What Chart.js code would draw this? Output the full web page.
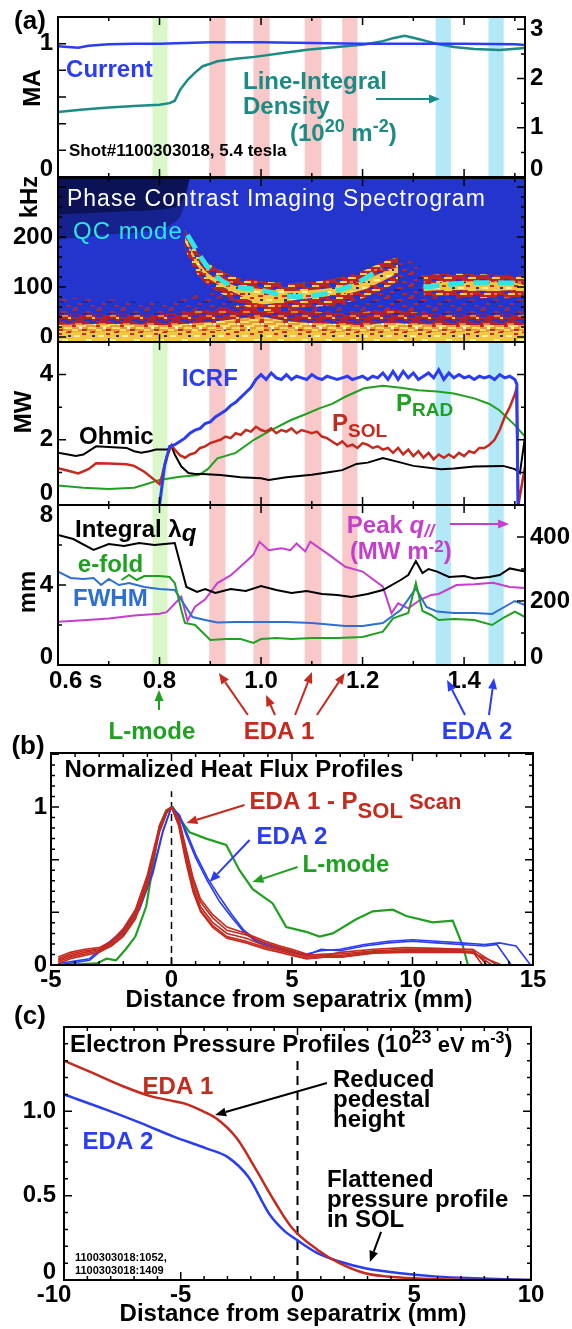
<!DOCTYPE html>
<html>
<head>
<meta charset="utf-8">
<script src="https://cdn.jsdelivr.net/npm/chart.js"></script>
<style>
  html, body { margin: 0; padding: 0; background: #fff; }
  #fig { position: relative; width: 572px; height: 1329px; overflow: hidden; background: #fff; }
  #fig canvas { position: absolute; left: 0; }
</style>
</head>
<body>
<div id="fig">
  <canvas id="cA1" width="572" height="179" style="top:0px"></canvas>
  <canvas id="cA2" width="572" height="166" style="top:177px"></canvas>
  <canvas id="cA3" width="572" height="165" style="top:341px"></canvas>
  <canvas id="cA4" width="572" height="246" style="top:504px"></canvas>
  <canvas id="cB" width="572" height="285" style="top:733px"></canvas>
  <canvas id="cC" width="572" height="324" style="top:1005px"></canvas>
</div>
<script>
// ---- panel (a): time windows (s) ----
const bandStart = [0.786, 0.898, 0.985, 1.086, 1.160, 1.344, 1.448];
const bandEnd   = [0.816, 0.930, 1.017, 1.119, 1.190, 1.374, 1.478];
const bandKind  = ['L', 'E1', 'E1', 'E1', 'E1', 'E2', 'E2'];

// plasma current (MA) and line-integral density (1e20 m^-2)
const curT = [0.6, 0.62, 0.64, 0.66, 0.7, 0.75, 0.8, 0.9, 1.0, 1.1, 1.2, 1.3, 1.4, 1.5, 1.52];
const curMA = [0.98, 0.975, 0.97, 0.985, 0.995, 1.0, 1.0, 1.01, 1.01, 1.005, 1.0, 1.0, 1.0, 0.995, 0.99];
const denT = [0.6, 0.65, 0.7, 0.75, 0.8, 0.82, 0.83, 0.841, 0.856, 0.87, 0.885, 0.9, 0.914, 0.95, 0.987,
  1.05, 1.095, 1.15, 1.203, 1.24, 1.26, 1.283, 1.3, 1.33, 1.348, 1.38, 1.42, 1.47, 1.52];
const den = [1.32, 1.37, 1.41, 1.44, 1.47, 1.5, 1.55, 1.78, 1.98, 2.12, 2.25, 2.3, 2.35, 2.4, 2.44,
  2.53, 2.59, 2.64, 2.69, 2.76, 2.82, 2.87, 2.83, 2.75, 2.7, 2.64, 2.6, 2.58, 2.62];

// spectrogram features (kHz)
const specT = [0.6, 0.7, 0.8, 0.85, 0.9, 0.95, 1.0, 1.05, 1.1, 1.15, 1.2, 1.25, 1.3, 1.35, 1.4, 1.45, 1.52];
const lowYellow = [10, 11, 10, 11, 13, 15, 16, 13, 11, 10, 10, 11, 10, 10, 10, 10, 10];
const lowOrange = [24, 26, 24, 26, 30, 36, 40, 32, 28, 26, 24, 28, 26, 24, 24, 24, 24];
const lowRed    = [45, 45, 45, 50, 55, 62, 70, 60, 52, 48, 50, 56, 50, 45, 45, 45, 45];
const speckle   = [80, 75, 70, 80, 90, 100, 100, 90, 85, 90, 100, 140, 130, 125, 125, 125, 125];
const navyT = [0.6, 0.7, 0.8, 0.84, 0.86];
const navyLow = [245, 250, 255, 265, 318];
const hazeLow = [195, 205, 215, 240, 318];
const navyTop = [318, 318, 318, 318, 318];
const qcT = [0.85, 0.875, 0.9, 0.95, 1.0, 1.05, 1.1, 1.15, 1.2, 1.24, 1.27];
const qcLo = [175, 125, 100, 72, 50, 55, 60, 65, 78, 95, 110];
const qcHi = [215, 170, 145, 120, 112, 108, 110, 118, 132, 150, 160];
const qcCoreLo = [192, 142, 115, 88, 66, 72, 78, 84, 94, 112, 128];
const qcCoreHi = [200, 152, 124, 102, 96, 92, 94, 100, 112, 130, 140];
const streakT = [1.23, 1.26, 1.3, 1.33];
const streakLo = [50, 45, 50, 60];
const streakHi = [150, 160, 150, 130];
const qc2T = [1.32, 1.36, 1.4, 1.45, 1.5, 1.52];
const qc2Lo = [80, 82, 80, 78, 80, 80];
const qc2Hi = [122, 126, 126, 125, 122, 120];
const qc2CoreLo = [92, 94, 94, 92, 94, 94];
const qc2CoreHi = [106, 110, 111, 110, 108, 106];
const dash1T = [0.855, 0.9, 0.94, 1.0, 1.053, 1.11, 1.166, 1.2, 1.237];
const dash1F = [204, 134, 104, 94, 82, 84, 98, 114, 138];
const dash2T = [1.32, 1.41, 1.5];
const dash2F = [100, 108, 108];

// power (MW)
const icrfT = [0.800, 0.805, 0.81, 0.82, 0.83, 0.84, 0.85, 0.86, 0.87, 0.88,
  0.89, 0.90, 0.91, 0.92, 0.93, 0.94, 0.95, 0.96, 0.97, 0.98,
  0.99, 1.00, 1.01, 1.02, 1.03, 1.04, 1.05, 1.06, 1.07, 1.08,
  1.09, 1.10, 1.11, 1.12, 1.13, 1.14, 1.15, 1.16, 1.17, 1.18,
  1.19, 1.20, 1.21, 1.22, 1.23, 1.24, 1.25, 1.26, 1.27, 1.28,
  1.29, 1.30, 1.31, 1.32, 1.33, 1.34, 1.35, 1.36, 1.37, 1.38,
  1.39, 1.40, 1.41, 1.42, 1.43, 1.44, 1.45, 1.46, 1.47, 1.48,
  1.49, 1.50, 1.504, 1.506];
const icrf = [0.0, 0.6, 1.2, 1.8, 1.85, 1.95, 2.05, 2.2, 2.3, 2.35,
  2.5, 2.55, 2.7, 2.8, 2.9, 3.05, 3.15, 3.3, 3.45, 3.6,
  3.85, 4.0, 3.85, 4.05, 3.9, 3.85, 4.0, 3.85, 3.95, 3.9,
  3.85, 4.0, 3.9, 3.85, 3.95, 3.9, 3.85, 3.9, 3.95, 3.85,
  3.9, 3.95, 3.85, 3.95, 3.9, 4.05, 3.85, 4.1, 3.85, 4.1,
  3.9, 4.05, 3.85, 3.95, 4.05, 3.9, 4.15, 3.85, 4.05, 3.9,
  4.0, 3.9, 3.95, 3.85, 3.95, 3.9, 3.95, 3.85, 4.0, 3.9,
  3.95, 3.85, 3.7, 0.0];
const psolT = [0.60, 0.62, 0.64, 0.66, 0.675, 0.70, 0.735, 0.75, 0.77, 0.79,
  0.80, 0.805, 0.814, 0.824, 0.83, 0.84, 0.85, 0.86, 0.87, 0.88,
  0.89, 0.90, 0.91, 0.92, 0.93, 0.94, 0.95, 0.96, 0.97, 0.98,
  0.99, 1.00, 1.01, 1.02, 1.03, 1.04, 1.05, 1.06, 1.07, 1.08,
  1.09, 1.10, 1.11, 1.12, 1.13, 1.14, 1.15, 1.16, 1.17, 1.18,
  1.19, 1.20, 1.21, 1.22, 1.23, 1.24, 1.25, 1.26, 1.27, 1.28,
  1.29, 1.30, 1.31, 1.32, 1.33, 1.34, 1.35, 1.36, 1.37, 1.38,
  1.39, 1.40, 1.41, 1.42, 1.43, 1.44, 1.45, 1.46, 1.47, 1.48,
  1.49, 1.50, 1.503, 1.507, 1.52];
const psol = [1.13, 1.05, 0.97, 1.1, 1.28, 1.27, 1.25, 1.2, 1.02, 0.77,
  0.64, 0.9, 1.48, 1.84, 1.7, 1.53, 1.45, 1.55, 1.6, 1.75,
  1.8, 1.9, 1.95, 2.0, 2.1, 2.05, 2.2, 2.15, 2.3, 2.25,
  2.4, 2.3, 2.25, 2.35, 2.2, 2.3, 2.25, 2.35, 2.2, 2.3,
  2.25, 2.2, 2.25, 2.1, 2.05, 1.95, 1.85, 1.95, 1.8, 1.85,
  1.75, 1.9, 1.85, 1.75, 1.8, 1.7, 1.75, 1.6, 1.75, 1.55,
  1.7, 1.5, 1.65, 1.45, 1.6, 1.4, 1.55, 1.45, 1.55, 1.45,
  1.6, 1.5, 1.65, 1.6, 1.75, 1.75, 1.85, 2.0, 2.3, 2.7,
  3.0, 3.4, 3.55, 0.0, 1.2];
const ohmT = [0.60, 0.62, 0.635, 0.65, 0.675, 0.70, 0.735, 0.75, 0.764, 0.78,
  0.793, 0.815, 0.824, 0.83, 0.843, 0.857, 0.87, 0.885, 0.92, 0.96,
  1.00, 1.015, 1.05, 1.10, 1.13, 1.16, 1.188, 1.21, 1.24, 1.276,
  1.30, 1.355, 1.38, 1.42, 1.477, 1.50, 1.51, 1.52];
const ohm = [1.6, 1.55, 1.5, 1.55, 1.8, 1.78, 1.75, 1.65, 1.6, 1.65,
  1.7, 1.7, 1.8, 1.55, 1.18, 0.98, 0.95, 0.95, 0.92, 0.85,
  0.82, 0.77, 0.85, 0.93, 1.0, 1.07, 1.26, 1.3, 1.44, 1.3,
  1.2, 1.1, 1.12, 1.18, 1.2, 1.1, 0.98, 2.1];
const pradT = [0.6, 0.65, 0.70, 0.75, 0.77, 0.80, 0.84, 0.877, 0.895, 0.914,
  0.95, 0.986, 1.02, 1.058, 1.09, 1.116, 1.14, 1.166, 1.203, 1.24,
  1.275, 1.31, 1.347, 1.38, 1.42, 1.45, 1.47, 1.50, 1.52];
const prad = [0.6, 0.53, 0.49, 0.53, 0.62, 0.77, 0.87, 0.92, 1.1, 1.43,
  1.6, 2.0, 2.3, 2.6, 2.8, 2.97, 3.1, 3.32, 3.58, 3.66,
  3.6, 3.52, 3.48, 3.42, 3.27, 3.1, 2.9, 2.45, 2.1];

// heat flux widths (mm) and peak q// (MW m^-2)
const intT = [0.6, 0.63, 0.67, 0.70, 0.73, 0.76, 0.79, 0.81, 0.83, 0.853,
  0.874, 0.89, 0.91, 0.94, 0.97, 1.0, 1.03, 1.06, 1.09, 1.12,
  1.15, 1.178, 1.21, 1.24, 1.275, 1.29, 1.305, 1.318, 1.33, 1.347,
  1.37, 1.40, 1.42, 1.45, 1.47, 1.49, 1.52];
const intL = [6.5, 6.3, 5.75, 6.05, 5.95, 6.1, 6.0, 6.05, 6.1, 3.9,
  3.65, 3.8, 3.6, 3.8, 3.7, 3.95, 3.75, 3.6, 3.7, 3.55,
  3.5, 3.4, 3.55, 3.75, 4.25, 4.5, 5.2, 4.6, 4.8, 4.67,
  4.4, 4.45, 4.33, 4.4, 4.5, 4.83, 4.67];
const peakT = [0.6, 0.65, 0.70, 0.75, 0.80, 0.814, 0.843, 0.855, 0.87, 0.89,
  0.914, 0.94, 0.97, 0.985, 0.997, 1.015, 1.04, 1.058, 1.07, 1.087,
  1.097, 1.13, 1.166, 1.2, 1.24, 1.257, 1.27, 1.29, 1.313, 1.335,
  1.35, 1.385, 1.42, 1.457, 1.49, 1.52];
const peakQ = [135, 140, 145, 155, 160, 165, 213, 138, 182, 205,
  256, 280, 323, 345, 385, 359, 365, 359, 380, 355,
  385, 349, 307, 292, 245, 162, 193, 177, 203, 219,
  222, 250, 252, 257, 244, 241];
const efT = [0.725, 0.74, 0.755, 0.77, 0.80, 0.82, 0.83, 0.843, 0.85, 0.87,
  0.90, 0.93, 0.96, 0.985, 1.0, 1.03, 1.06, 1.10, 1.15, 1.20,
  1.24, 1.26, 1.29, 1.305, 1.318, 1.335, 1.35, 1.38, 1.42, 1.455,
  1.48, 1.50, 1.52];
const efold = [4.25, 4.5, 4.25, 4.45, 4.45, 4.4, 4.1, 2.75, 2.1, 2.0,
  1.25, 1.3, 1.3, 1.1, 1.3, 1.35, 1.3, 1.35, 1.35, 1.4,
  1.67, 2.33, 2.6, 4.1, 2.7, 2.5, 2.25, 2.3, 2.25, 2.0,
  2.4, 2.67, 2.4];
const fwT = [0.6, 0.625, 0.65, 0.67, 0.685, 0.70, 0.72, 0.74, 0.77, 0.80,
  0.83, 0.843, 0.865, 0.89, 0.914, 0.95, 1.0, 1.05, 1.1, 1.166,
  1.2, 1.24, 1.275, 1.305, 1.326, 1.347, 1.38, 1.42, 1.455, 1.5,
  1.52];
const fwhm = [4.67, 4.35, 4.3, 4.35, 4.0, 4.3, 4.0, 4.1, 3.9, 3.8,
  3.75, 3.25, 2.4, 2.25, 2.12, 2.15, 2.15, 2.15, 2.1, 1.95,
  1.95, 2.1, 2.75, 3.83, 2.9, 2.67, 2.6, 2.6, 2.55, 3.2,
  3.0];

// ---- panel (b): normalized heat flux vs distance (mm) ----
const hfX = [-4.7, -4.2, -3.6, -3.0, -2.5, -2.0, -1.5, -1.0, -0.5, -0.2,
  0, 0.3, 0.6, 0.9, 1.2, 1.7, 2.3, 3.1, 3.9, 4.5,
  5.0, 5.6, 6.3, 7.0, 8.4, 9.7, 11.0, 12.0];
const eda1a = [0.02, 0.05, 0.07, 0.09, 0.13, 0.2, 0.32, 0.54, 0.86, 0.97, 1.0, 0.9, 0.69, 0.5, 0.37, 0.27, 0.2, 0.17, 0.12, 0.1, 0.08, 0.05, 0.06, 0.06, 0.085, 0.09, 0.09, 0.09];
const eda1b = [0.04, 0.07, 0.09, 0.1, 0.14, 0.22, 0.34, 0.56, 0.87, 0.98, 1.0, 0.92, 0.72, 0.53, 0.4, 0.3, 0.22, 0.19, 0.14, 0.11, 0.09, 0.06, 0.07, 0.07, 0.09, 0.1, 0.1, 0.1];
const eda1c = [0.03, 0.06, 0.08, 0.1, 0.12, 0.19, 0.3, 0.52, 0.85, 0.97, 1.0, 0.89, 0.67, 0.48, 0.35, 0.25, 0.18, 0.15, 0.11, 0.09, 0.07, 0.04, 0.05, 0.05, 0.08, 0.085, 0.085, 0.085];
const eda1d = [0.05, 0.08, 0.1, 0.11, 0.15, 0.23, 0.35, 0.57, 0.88, 0.98, 1.0, 0.93, 0.74, 0.55, 0.42, 0.32, 0.24, 0.2, 0.15, 0.12, 0.1, 0.07, 0.06, 0.08, 0.1, 0.11, 0.105, 0.1];
const eda1e = [0.01, 0.04, 0.06, 0.08, 0.12, 0.18, 0.29, 0.5, 0.84, 0.96, 1.0, 0.88, 0.65, 0.46, 0.34, 0.24, 0.17, 0.14, 0.1, 0.08, 0.06, 0.04, 0.05, 0.05, 0.075, 0.08, 0.08, 0.08];
const eda1TailV = [0.085, 0.095, 0.08, 0.1, 0.075];   // at 12.5 mm
const eda1EndX = [12.9, 13.1, 13.3, 13.5, 13.7];     // where each drops to 0
const eda2X = [-4.7, -3.4, -2.7, -2.0, -1.33, -0.77, -0.36, 0, 0.33, 0.6,
  1.0, 1.5, 2.0, 2.5, 3.0, 3.5, 4.0, 5.0, 5.6, 6.2,
  7.0, 8.0, 9.0, 10.0, 11.0, 12.0, 13.0, 13.5, 14.1];
const eda2a = [0, 0.03, 0.12, 0.21, 0.35, 0.58, 0.84, 1.0, 0.95, 0.85, 0.7, 0.55, 0.43, 0.32, 0.22, 0.16, 0.13, 0.08, 0.06, 0.1, 0.09, 0.12, 0.14, 0.15, 0.14, 0.13, 0.12, 0.13, 0];
const eda2bX = [-4.7, -3.4, -2.7, -2.0, -1.33, -0.77, -0.36, 0, 0.33, 0.6,
  1.0, 1.5, 2.0, 2.5, 3.0, 3.5, 4.0, 5.0, 5.6, 6.2,
  7.0, 8.0, 9.0, 10.0, 11.0, 12.0, 13.0, 13.6, 14.3, 14.9];
const eda2b = [0.01, 0.04, 0.13, 0.22, 0.36, 0.6, 0.85, 1.0, 0.94, 0.83, 0.68, 0.53, 0.4, 0.3, 0.21, 0.15, 0.12, 0.08, 0.07, 0.09, 0.1, 0.13, 0.15, 0.16, 0.15, 0.14, 0.13, 0.14, 0.12, 0];
const lmodeX = [-4.7, -3.1, -2.7, -2.3, -1.9, -1.5, -1.05, -0.77, -0.5, -0.22,
  0.05, 0.33, 0.75, 1.44, 2.27, 2.82, 3.37, 4.2, 4.76, 5.59,
  6.14, 6.69, 7.66, 8.35, 9.18, 9.74, 10.84, 11.67, 12.09, 12.3, 15];
const lmode = [0, 0.01, 0.04, 0.03, 0.1, 0.18, 0.37, 0.63, 0.88, 0.98,
  1.0, 0.93, 0.84, 0.8, 0.76, 0.6, 0.48, 0.39, 0.24, 0.21,
  0.18, 0.2, 0.29, 0.34, 0.35, 0.31, 0.27, 0.28, 0.12, 0, 0];

// ---- panel (c): electron pressure (1e23 eV m^-3) ----
const peX1 = [-10, -8.9, -7.5, -6.3, -5.3, -4.7, -4.2, -3.5, -2.6, -1.8, -1.0, -0.24, 0.85, 1.8, 2.9, 4.4, 6.0, 8.0, 10];
const pe1 = [1.30, 1.235, 1.15, 1.09, 1.06, 1.04, 1.01, 0.96, 0.84, 0.66, 0.47, 0.31, 0.18, 0.10, 0.04, 0.015, 0.005, 0.0, 0.0];
const peX2 = [-10, -8.2, -6.7, -5.3, -3.9, -3.0, -2.1, -1.2, -0.55, 0, 0.85, 1.8, 2.9, 4.4, 6.0, 7.6, 10];
const pe2 = [1.10, 1.01, 0.93, 0.85, 0.78, 0.73, 0.61, 0.39, 0.29, 0.235, 0.16, 0.11, 0.07, 0.04, 0.02, 0.01, 0.0];

// ---- styling ----
const FONT = '"Liberation Sans", Arial, Helvetica, sans-serif';
const BLUE = '#2b3df2', TEAL = '#1b8b84', RED = '#c42a1e', GREEN = '#20a020';
const FWHM_BLUE = '#2e6fd4', MAG = '#c43fcc', CYAN = '#2ee6e6';
const SPEC_BG = '#2335cc';
const BAND_COLORS = { L: '#d9f7c9', E1: '#f9c9c9', E2: '#b3e9f7' };
const ROT = -Math.PI / 2;

const xAxesA = [
  { scale: 'x', side: 'top', major: 0.2, minor: 0.1 },
  { scale: 'x', side: 'bottom', major: 0.2, minor: 0.1 }
];

// per-canvas frame, ticks and annotations
const PANEL = {
  cA1: {
    bands: true,
    axes: [
      { scale: 'y', side: 'left', major: 0.2, labels: [[0, '0'], [1, '1']], pad: [10, 8] },
      { scale: 'y2', side: 'right', major: 1, minor: 0.5, labels: [[0, '0'], [1, '1'], [2, '2'], [3, '3']], pad: [10, 8] }
    ].concat(xAxesA),
    notes: [
      { px: 30, py: 20, parts: [['(a)', 26]], align: 'center' },
      { px: 31, py: 88, rot: ROT, parts: [['MA', 24]], align: 'center' },
      { x: 0.616, y: 0.8175, parts: [['Current', 24]], color: BLUE },
      { x: 0.9645, y: 0.7275, parts: [['Line-Integral', 24]], color: TEAL },
      { x: 0.9645, y: 0.54, parts: [['Density', 24]], color: TEAL },
      { x: 1.057, y: 0.3375, parts: [['(10', 24], ['20', 18, -9], [' m', 24], ['-2', 18, -9], [')', 24]], color: TEAL },
      { arrow: true, x1: 1.2265, y1: 0.585, x2: 1.3526, y2: 0.585, color: TEAL },
      { x: 0.6217, y: 0.2025, parts: [['Shot#1100303018, 5.4 tesla', 17]] }
    ]
  },
  cA2: {
    bg: SPEC_BG,
    axes: [
      { scale: 'y', side: 'left', major: 100, minor: 20, labels: [[0, '0'], [100, '100'], [200, '200']], pad: [8, 5] },
      { scale: 'y', side: 'right', major: 100, minor: 20 }
    ].concat(xAxesA),
    notes: [
      { px: 28, py: 20, rot: ROT, parts: [['kHz', 24]], align: 'center' },
      { x: 0.6177, y: 278, parts: [['Phase Contrast Imaging Spectrogram', 23, 0, 'normal']], color: '#fff', ls: 1 },
      { x: 0.6296, y: 214, parts: [['QC mode', 24, 0, 'normal']], color: CYAN, ls: 1 }
    ]
  },
  cA3: {
    bands: true,
    axes: [
      { scale: 'y', side: 'left', major: 2, minor: 1, labels: [[0, '0'], [2, '2'], [4, '4']], pad: [8, 12] },
      { scale: 'y', side: 'right', major: 2, minor: 1 }
    ].concat(xAxesA),
    notes: [
      { px: 22, py: 71, rot: ROT, parts: [['MW', 24]], align: 'center' },
      { x: 0.844, y: 3.93, parts: [['ICRF', 24]], color: BLUE },
      { x: 0.6414, y: 2.15, parts: [['Ohmic', 24]] },
      { x: 1.14, y: 2.55, parts: [['P', 24], ['SOL', 19, 6]], color: RED },
      { x: 1.266, y: 3.16, parts: [['P', 24], ['RAD', 19, 5]], color: GREEN }
    ]
  },
  cA4: {
    bands: true,
    axes: [
      { scale: 'y', side: 'left', major: 4, minor: 2, labels: [[0, '0'], [4, '4'], [8, '8']], pad: [10, 8] },
      { scale: 'y2', side: 'right', major: 200, minor: 100, labels: [[0, '0'], [200, '200'], [400, '400']], pad: [10, 8] },
      { scale: 'x', side: 'top', major: 0.2, minor: 0.1 },
      { scale: 'x', side: 'bottom', major: 0.2, minor: 0.1, off: 16,
        labels: [[0.6, '0.6 s', 'left', -9], [0.8, '0.8'], [1.0, '1.0'], [1.2, '1.2'], [1.4, '1.4']] }
    ],
    notes: [
      { px: 26, py: 88, rot: ROT, parts: [['mm', 24]], align: 'center' },
      { x: 0.6335, y: 6.85, parts: [['Integral ', 24], ['\u03bb', 24], ['q', 24, 4, 'italic bold']] },
      { x: 0.639, y: 5.1, parts: [['e-fold', 24]], color: GREEN },
      { x: 0.6296, y: 3.4, parts: [['FWHM', 24]], color: FWHM_BLUE },
      { x: 1.169, y: 7.05, parts: [['Peak ', 24], ['q', 24, 0, 'italic bold'], ['//', 18, 4, 'italic bold']], color: MAG },
      { x: 1.175, y: 5.75, parts: [['(MW m', 24], ['-2', 17, -7], [')', 24]], color: MAG },
      { arrow: true, x1: 1.372, y1: 7.05, x2: 1.4886, y2: 7.05, color: MAG },
      { x: 0.785, y: -3.25, parts: [['L-mode', 24]], color: GREEN, align: 'center' },
      { x: 1.0354, y: -3.25, parts: [['EDA 1', 24]], color: RED, align: 'center' },
      { x: 1.4255, y: -3.25, parts: [['EDA 2', 24]], color: BLUE, align: 'center' },
      { arrow: true, x1: 0.799, y1: -2.25, x2: 0.799, y2: -1.25, color: GREEN },
      { arrow: true, x1: 0.974, y1: -2.5, x2: 0.917, y2: -0.4, color: RED },
      { arrow: true, x1: 1.0275, y1: -2.5, x2: 1.0098, y2: -1.5, color: RED },
      { arrow: true, x1: 1.067, y1: -2.5, x2: 1.1004, y2: -0.35, color: RED },
      { arrow: true, x1: 1.11, y1: -2.5, x2: 1.165, y2: -0.4, color: RED },
      { arrow: true, x1: 1.4018, y1: -2.5, x2: 1.3664, y2: -0.75, color: BLUE },
      { arrow: true, x1: 1.449, y1: -2.5, x2: 1.459, y2: -0.65, color: BLUE }
    ]
  },
  cB: {
    axes: [
      { scale: 'y', side: 'left', major: 1 / 3, minor: 1 / 15, labels: [[0, '0'], [1, '1']], pad: [0, 0], gap: 4 },
      { scale: 'y', side: 'right', major: 1 / 3, minor: 1 / 15 },
      { scale: 'x', side: 'top', major: 5, minor: 1 },
      { scale: 'x', side: 'bottom', major: 5, minor: 1, off: 15,
        labels: [[-5, '-5'], [0, '0'], [5, '5'], [10, '10'], [15, '15']] }
    ],
    notes: [
      { px: 28, py: 12, parts: [['(b)', 26]], align: 'center' },
      { x: -4.44, y: 1.247, parts: [['Normalized Heat Flux Profiles', 24]] },
      { x: 3.24, y: 1.044, parts: [['EDA 1 - P', 24], ['SOL', 22, 9], [' Scan', 22]], color: RED },
      { arrow: true, x1: 3.03, y1: 1.013, x2: 0.62, y2: 0.899, color: RED },
      { x: 3.53, y: 0.823, parts: [['EDA 2', 24]], color: BLUE },
      { arrow: true, x1: 3.24, y1: 0.791, x2: 1.58, y2: 0.525, color: BLUE },
      { x: 5.44, y: 0.646, parts: [['L-mode', 24]], color: GREEN },
      { arrow: true, x1: 5.23, y1: 0.62, x2: 3.36, y2: 0.525, color: GREEN },
      { px: 299, py: 265, parts: [['Distance from separatrix (mm)', 24]], align: 'center' }
    ]
  },
  cC: {
    axes: [
      { scale: 'y', side: 'left', major: 0.5, minor: 0.1, labels: [[0, '0'], [0.5, '0.5'], [1, '1.0']], pad: [0, 8], gap: 8 },
      { scale: 'y', side: 'right', major: 0.5, minor: 0.1 },
      { scale: 'x', side: 'top', major: 5, minor: 1 },
      { scale: 'x', side: 'bottom', major: 5, minor: 1, off: 15,
        labels: [[-10, '-10', 'center', -10], [-5, '-5'], [0, '0'], [5, '5'], [10, '10']] }
    ],
    notes: [
      { px: 30, py: 10, parts: [['(c)', 26]], align: 'center' },
      { x: -9.74, y: 1.405, parts: [['Electron Pressure Profiles (10', 24], ['23', 18, -9], [' eV m', 22], ['-3', 16, -9], [')', 24]] },
      { x: -5.12, y: 1.156, parts: [['EDA 1', 24]], color: RED, align: 'center' },
      { x: -7.69, y: 0.83, parts: [['EDA 2', 24]], color: BLUE, align: 'center' },
      { x: 1.52, y: 1.197, parts: [['Reduced', 24]] },
      { x: 1.52, y: 1.079, parts: [['pedestal', 24]] },
      { x: 1.52, y: 0.96, parts: [['height', 24]] },
      { arrow: true, x1: 1.26, y1: 1.168, x2: -3.53, y2: 0.978, color: '#000' },
      { x: 1.26, y: 0.605, parts: [['Flattened', 24]] },
      { x: 1.26, y: 0.486, parts: [['pressure profile', 24]] },
      { x: 1.26, y: 0.368, parts: [['in SOL', 24]] },
      { arrow: true, x1: 3.58, y1: 0.285, x2: 3.1, y2: 0.107, color: '#000' },
      { x: -9.53, y: 0.136, parts: [['1100303018:1052,', 11]] },
      { x: -9.53, y: 0.059, parts: [['1100303018:1409', 11]] },
      { px: 293, py: 307, parts: [['Distance from separatrix (mm)', 24]], align: 'center' }
    ]
  }
};

function tickValues(lo, hi, step) {
  const out = [];
  if (!step) return out;
  const i0 = Math.ceil(lo / step - 1e-6), i1 = Math.floor(hi / step + 1e-6);
  for (let i = i0; i <= i1; i++) out.push(i * step);
  return out;
}

function drawAxis(chart, ax) {
  const { ctx, chartArea: a } = chart;
  const sc = chart.scales[ax.scale];
  const marks = tickValues(sc.min, sc.max, ax.minor).map(v => [v, 4])
    .concat(tickValues(sc.min, sc.max, ax.major).map(v => [v, 8]));
  ctx.strokeStyle = '#000';
  ctx.lineWidth = 1.5;
  ctx.beginPath();
  for (const [v, len] of marks) {
    const p = sc.getPixelForValue(v);
    if (ax.side === 'left') { ctx.moveTo(a.left, p); ctx.lineTo(a.left + len, p); }
    else if (ax.side === 'right') { ctx.moveTo(a.right, p); ctx.lineTo(a.right - len, p); }
    else if (ax.side === 'top') { ctx.moveTo(p, a.top); ctx.lineTo(p, a.top + len); }
    else { ctx.moveTo(p, a.bottom); ctx.lineTo(p, a.bottom - len); }
  }
  ctx.stroke();

  if (!ax.labels) return;
  ctx.font = `bold ${ax.size || 24}px ${FONT}`;
  ctx.fillStyle = '#000';
  ctx.textBaseline = 'middle';
  const pad = ax.pad || [0, 0];
  const gap = ax.gap || 5;
  for (const [v, text, align, dx] of ax.labels) {
    const p = sc.getPixelForValue(v);
    if (ax.side === 'left' || ax.side === 'right') {
      const y = Math.min(Math.max(p, a.top + pad[0]), a.bottom - pad[1]);
      ctx.textAlign = ax.side === 'left' ? 'right' : 'left';
      ctx.fillText(text, ax.side === 'left' ? a.left - gap : a.right + gap, y);
    } else {
      ctx.textAlign = align || 'center';
      ctx.fillText(text, p + (dx || 0), a.bottom + (ax.off || 15));
    }
  }
}

function drawRich(ctx, x, y, parts, align, color, ls) {
  let w = 0;
  const items = parts.map(([t, size = 24, dy = 0, style = 'bold']) => {
    ctx.font = `${style} ${size}px ${FONT}`;
    ctx.letterSpacing = (ls || 0) + 'px';
    const pw = ctx.measureText(t).width;
    w += pw;
    return { t, font: ctx.font, dy, pw };
  });
  const base = y + 0.36 * (parts[0][1] || 24);
  let cx = align === 'center' ? x - w / 2 : align === 'right' ? x - w : x;
  ctx.fillStyle = color || '#000';
  ctx.textAlign = 'left';
  ctx.textBaseline = 'alphabetic';
  for (const it of items) {
    ctx.font = it.font;
    ctx.letterSpacing = (ls || 0) + 'px';
    ctx.fillText(it.t, cx, base + it.dy);
    cx += it.pw;
  }
  ctx.letterSpacing = '0px';
}

function drawArrow(ctx, x1, y1, x2, y2, color) {
  const ang = Math.atan2(y2 - y1, x2 - x1);
  const h = 11, hw = 4.5;
  const bx = x2 - h * Math.cos(ang), by = y2 - h * Math.sin(ang);
  ctx.strokeStyle = color;
  ctx.fillStyle = color;
  ctx.lineWidth = 2;
  ctx.beginPath();
  ctx.moveTo(x1, y1);
  ctx.lineTo(bx, by);
  ctx.stroke();
  ctx.beginPath();
  ctx.moveTo(x2, y2);
  ctx.lineTo(bx + hw * Math.sin(ang), by - hw * Math.cos(ang));
  ctx.lineTo(bx - hw * Math.sin(ang), by + hw * Math.cos(ang));
  ctx.closePath();
  ctx.fill();
}

function drawNote(chart, n) {
  const ctx = chart.ctx;
  const xs = chart.scales[n.xs || 'x'], ys = chart.scales[n.ys || 'y'];
  if (n.arrow) {
    drawArrow(ctx, xs.getPixelForValue(n.x1), ys.getPixelForValue(n.y1),
      xs.getPixelForValue(n.x2), ys.getPixelForValue(n.y2), n.color || '#000');
    return;
  }
  const x = n.px !== undefined ? n.px : xs.getPixelForValue(n.x);
  const y = n.py !== undefined ? n.py : ys.getPixelForValue(n.y);
  if (n.rot) {
    ctx.save();
    ctx.translate(x, y);
    ctx.rotate(n.rot);
    drawRich(ctx, 0, 0, n.parts, n.align, n.color, n.ls);
    ctx.restore();
  } else {
    drawRich(ctx, x, y, n.parts, n.align, n.color, n.ls);
  }
}

const idlPlugin = {
  id: 'idl',
  beforeDatasetsDraw(chart) {
    const cfg = PANEL[chart.canvas.id];
    const { ctx, chartArea: a } = chart;
    ctx.save();
    if (cfg.bg) {
      ctx.fillStyle = cfg.bg;
      ctx.fillRect(a.left, a.top, a.right - a.left, a.bottom - a.top);
    }
    if (cfg.bands) {
      const xs = chart.scales.x;
      bandStart.forEach((s, i) => {
        const x0 = xs.getPixelForValue(s), x1 = xs.getPixelForValue(bandEnd[i]);
        ctx.fillStyle = BAND_COLORS[bandKind[i]];
        ctx.fillRect(x0, a.top, x1 - x0, a.bottom - a.top);
      });
    }
    ctx.restore();
  },
  afterDatasetsDraw(chart) {
    const cfg = PANEL[chart.canvas.id];
    const { ctx, chartArea: a } = chart;
    ctx.save();
    cfg.axes.forEach(ax => drawAxis(chart, ax));
    ctx.strokeStyle = '#000';
    ctx.lineWidth = 2;
    ctx.strokeRect(a.left, a.top, a.right - a.left, a.bottom - a.top);
    cfg.notes.forEach(n => drawNote(chart, n));
    ctx.restore();
  }
};

// streaky fill textures for the spectrogram (fixed tiles, 24x12 px)
function pattern(bg, rects) {
  const tile = document.createElement('canvas');
  tile.width = 24; tile.height = 12;
  const c = tile.getContext('2d');
  if (bg) { c.fillStyle = bg; c.fillRect(0, 0, 24, 12); }
  for (const [x, y, w, h, col] of rects) { c.fillStyle = col; c.fillRect(x, y, w, h); }
  return document.getElementById('cA2').getContext('2d').createPattern(tile, 'repeat');
}
const Y1 = '#f8e26a', RD = '#c62a20', OR = '#ec7d2e', WH = '#fffbe0', SR = 'rgba(200,35,30,0.7)';
const patLow = pattern('#ef9b35', [
  [0, 0, 9, 2, Y1], [12, 2, 8, 2, Y1], [4, 4, 10, 2, Y1], [16, 6, 8, 2, Y1], [0, 8, 6, 2, Y1], [9, 10, 9, 2, Y1],
  [19, 0, 5, 2, RD], [0, 4, 4, 2, RD], [10, 8, 5, 2, RD], [20, 10, 4, 2, RD], [7, 6, 3, 2, WH], [21, 2, 3, 2, WH]]);
const patCore = pattern('#f3c640', [
  [2, 2, 6, 2, '#fdf0a0'], [14, 6, 6, 2, '#fdf0a0'], [10, 0, 4, 2, RD], [0, 8, 5, 2, RD], [18, 10, 5, 2, RD],
  [20, 2, 3, 2, '#2a2a8a'], [8, 8, 2, 2, '#2a2a8a']]);
const patRed = pattern('rgba(195,28,28,0.85)', [
  [3, 2, 7, 2, OR], [14, 6, 6, 2, OR], [20, 8, 3, 2, '#f3d24a'],
  [17, 0, 7, 2, SPEC_BG], [0, 6, 7, 2, SPEC_BG], [12, 10, 8, 2, SPEC_BG], [8, 4, 6, 2, SPEC_BG], [0, 10, 4, 2, SPEC_BG]]);
const patQC = pattern('rgba(200,35,25,0.9)', [
  [0, 0, 7, 2, '#f5d04a'], [12, 4, 8, 2, '#f5d04a'], [4, 8, 7, 2, '#f5d04a'],
  [9, 2, 5, 2, SPEC_BG], [0, 6, 6, 2, SPEC_BG], [18, 0, 6, 2, SPEC_BG], [17, 10, 7, 2, SPEC_BG], [14, 8, 3, 2, OR]]);
const patSpeckle = pattern(null, [
  [0, 0, 5, 2, SR], [13, 2, 6, 2, SR], [6, 6, 4, 2, SR], [18, 8, 5, 2, SR], [2, 10, 4, 2, SR],
  [10, 4, 6, 2, 'rgba(20,30,150,0.5)']]);

function xy(xs, ys) {
  const n = Math.min(xs.length, ys.length), out = [];
  for (let i = 0; i < n; i++) out.push({ x: xs[i], y: ys[i] });
  return out;
}
function ln(xs, ys, color, extra) {
  return Object.assign({ data: xy(xs, ys), borderColor: color, borderWidth: 2, pointRadius: 0, fill: false, tension: 0 }, extra || {});
}
// filled region between two edges (lower edge must sit right before the upper one)
function band(xs, lo, hi, color, order) {
  return [
    ln(xs, lo, 'rgba(0,0,0,0)', { borderWidth: 0, order, tension: 0.3 }),
    ln(xs, hi, 'rgba(0,0,0,0)', { borderWidth: 0, order, tension: 0.3, fill: '-1', backgroundColor: color })
  ];
}
function floor(xs, top, color, order) {
  return ln(xs, top, 'rgba(0,0,0,0)', { borderWidth: 0, order, tension: 0.3, fill: 'start', backgroundColor: color });
}

function lin(min, max, pos) {
  return { type: 'linear', min, max, display: false, position: pos || 'left' };
}

function makeChart(id, scales, datasets, pad) {
  return new Chart(document.getElementById(id), {
    type: 'line',
    data: { datasets },
    options: {
      responsive: false, animation: false, events: [], devicePixelRatio: 1,
      layout: { padding: pad, autoPadding: false },
      plugins: { legend: { display: false }, tooltip: { enabled: false } },
      scales
    },
    plugins: [idlPlugin]
  });
}

const padA = (top, bottom) => ({ left: 58, right: 47, top, bottom });

// (a) current + density
makeChart('cA1',
  { x: lin(0.6, 1.52), y: lin(0, 1.2), y2: lin(0, 3.25, 'right') },
  [
    ln(curT, curMA, BLUE, { borderWidth: 2.5 }),
    ln(denT, den, TEAL, { yAxisID: 'y2', borderWidth: 2.5 })
  ],
  padA(17, 2));

// (a) spectrogram built from layered bands
const specSets = [
  ln(dash1T, dash1F, CYAN, { borderWidth: 5, borderDash: [16, 9], tension: 0.4, order: 0 }),
  ln(dash2T, dash2F, CYAN, { borderWidth: 5, borderDash: [16, 9], tension: 0.4, order: 0 })
];
specSets.push(...band(navyT, navyLow, navyTop, '#0b1255', 1));
specSets.push(...band(navyT, hazeLow, navyTop, 'rgba(10,16,80,0.5)', 2));
specSets.push(...band(qc2T, qc2CoreLo, qc2CoreHi, patCore, 3));
specSets.push(...band(qc2T, qc2Lo, qc2Hi, patQC, 4));
specSets.push(...band(qcT, qcCoreLo, qcCoreHi, patCore, 3));
specSets.push(...band(qcT, qcLo, qcHi, patQC, 4));
specSets.push(...band(streakT, streakLo, streakHi, patSpeckle, 5));
specSets.push(floor(specT, lowYellow, patCore, 6));
specSets.push(floor(specT, lowOrange, patLow, 7));
specSets.push(floor(specT, lowRed, patRed, 8));
specSets.push(floor(specT, speckle, patSpeckle, 9));
makeChart('cA2', { x: lin(0.6, 1.52), y: lin(-10, 318) }, specSets, padA(1, 1));

// (a) powers
makeChart('cA3',
  { x: lin(0.6, 1.52), y: lin(0, 5) },
  [
    ln(icrfT, icrf, BLUE, { borderWidth: 3 }),
    ln(psolT, psol, RED, { borderWidth: 2.5 }),
    ln(ohmT, ohm, '#000'),
    ln(pradT, prad, GREEN)
  ],
  padA(1, 1));

// (a) widths and peak heat flux
makeChart('cA4',
  { x: lin(0.6, 1.52), y: lin(0, 8), y2: lin(0, 500, 'right') },
  [
    ln(intT, intL, '#000'),
    ln(efT, efold, GREEN),
    ln(fwT, fwhm, FWHM_BLUE),
    ln(peakT, peakQ, MAG, { yAxisID: 'y2' })
  ],
  padA(1, 85));

// (b) heat flux profiles
const hfSets = [];
[eda1a, eda1b, eda1c, eda1d, eda1e].forEach((c, i) => {
  hfSets.push(ln(hfX.concat([12.5, eda1EndX[i]]), c.concat([eda1TailV[i], 0]), RED, { borderWidth: 1.6 }));
});
hfSets.push(ln(eda2X, eda2a, BLUE, { borderWidth: 1.6 }));
hfSets.push(ln(eda2bX, eda2b, BLUE, { borderWidth: 1.6 }));
hfSets.push(ln(lmodeX, lmode, GREEN, { borderWidth: 2.2 }));
hfSets.push(ln([0, 0], [0, 1.1], '#000', { borderWidth: 1.5, borderDash: [7, 5] }));
makeChart('cB', { x: lin(-5, 15), y: lin(0, 1.342) }, hfSets, { left: 51, right: 39, top: 20, bottom: 53 });

// (c) pressure profiles
makeChart('cC',
  { x: lin(-10, 10), y: lin(0, 1.5) },
  [
    ln(peX1, pe1, RED, { borderWidth: 2.5, cubicInterpolationMode: 'monotone' }),
    ln(peX2, pe2, BLUE, { borderWidth: 2.5, cubicInterpolationMode: 'monotone' }),
    ln([0, 0], [0, 1.3], '#000', { borderWidth: 2, borderDash: [9, 6] })
  ],
  { left: 64, right: 41, top: 22, bottom: 49 });
</script>
</body>
</html>
